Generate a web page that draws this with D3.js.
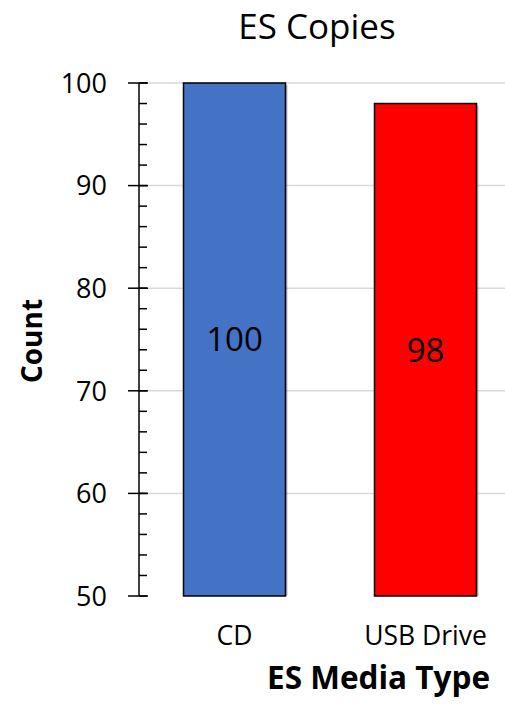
<!DOCTYPE html>
<html>
<head>
<meta charset="utf-8">
<script src="https://cdn.jsdelivr.net/npm/d3@7"></script>
<style>
  html, body { margin: 0; padding: 0; background: #fff; }
  svg { display: block; font-family: "Open Sans", "Liberation Sans", sans-serif; }
</style>
</head>
<body>
<svg id="chart" width="505" height="712"></svg>
<script>
// Media types and the number of copies for each
const categories = ["CD", "USB Drive"];
const counts = [100, 98];
const barColors = ["#4472C4", "#FF0000"];
const yTicks = [50, 60, 70, 80, 90, 100];
const yMinorTicks = d3.range(50, 101, 2);

const svg = d3.select("#chart");
const W = 505;
const plotLeft = 139, plotTop = 83, plotBottom = 596, plotRight = 521;

const y = d3.scaleLinear().domain([50, 100]).range([plotBottom, plotTop]);
const x = d3.scaleBand().domain(categories).range([plotLeft, plotRight])
  .paddingInner(0.466).paddingOuter(0.233);

// Horizontal gridlines
svg.append("g").selectAll("line").data(yTicks.slice(1)).join("line")
  .attr("x1", plotLeft).attr("x2", W)
  .attr("y1", d => y(d)).attr("y2", d => y(d))
  .attr("stroke", "#d9d9d9").attr("stroke-width", 1.5);

// Bars with a faint shadow
const bars = svg.append("g");
bars.selectAll("rect.shadow").data(categories).join("rect")
  .attr("class", "shadow")
  .attr("x", d => x(d) + 2)
  .attr("y", (d, i) => y(counts[i]) + 2)
  .attr("width", x.bandwidth())
  .attr("height", (d, i) => y(50) - y(counts[i]) - 2)
  .attr("fill", "#000").attr("opacity", 0.25);
bars.selectAll("rect.bar").data(categories).join("rect")
  .attr("class", "bar")
  .attr("x", d => x(d))
  .attr("y", (d, i) => y(counts[i]))
  .attr("width", x.bandwidth())
  .attr("height", (d, i) => y(50) - y(counts[i]))
  .attr("fill", (d, i) => barColors[i])
  .attr("stroke", "#000").attr("stroke-width", 1.5);

// Value labels at the middle of each bar
svg.append("g").selectAll("text").data(categories).join("text")
  .attr("x", d => x(d) + x.bandwidth() / 2)
  .attr("y", (d, i) => (y(counts[i]) + y(50)) / 2)
  .attr("dy", "0.36em")
  .attr("text-anchor", "middle")
  .attr("font-size", 33)
  .attr("fill", "#000")
  .text((d, i) => counts[i]);

// Y axis: minor ticks inside, major ticks crossing
const yAxis = svg.append("g");
yAxis.selectAll("line.minor").data(yMinorTicks).join("line")
  .attr("class", "minor")
  .attr("x1", plotLeft).attr("x2", plotLeft + 8)
  .attr("y1", d => y(d)).attr("y2", d => y(d))
  .attr("stroke", "#000").attr("stroke-width", 1.5);
yAxis.selectAll("line.major").data(yTicks).join("line")
  .attr("class", "major")
  .attr("x1", plotLeft - 11).attr("x2", plotLeft + 9)
  .attr("y1", d => y(d)).attr("y2", d => y(d))
  .attr("stroke", "#000").attr("stroke-width", 1.5);
yAxis.append("line")
  .attr("x1", plotLeft).attr("x2", plotLeft)
  .attr("y1", y(100)).attr("y2", y(50))
  .attr("stroke", "#000").attr("stroke-width", 1.5);
yAxis.selectAll("text").data(yTicks).join("text")
  .attr("x", 107)
  .attr("y", d => y(d))
  .attr("dy", "0.36em")
  .attr("text-anchor", "end")
  .attr("font-size", 27)
  .attr("fill", "#000")
  .text(d => d);

// Category labels
svg.append("g").selectAll("text").data(categories).join("text")
  .attr("x", d => x(d) + x.bandwidth() / 2)
  .attr("y", 645)
  .attr("text-anchor", "middle")
  .attr("font-size", 26.5)
  .attr("fill", "#000")
  .text(d => d);

// Title
svg.append("text")
  .attr("x", 317).attr("y", 39)
  .attr("text-anchor", "middle")
  .attr("font-size", 35)
  .attr("fill", "#000")
  .text("ES Copies");

// Axis titles
svg.append("text")
  .attr("x", 490).attr("y", 689)
  .attr("text-anchor", "end")
  .attr("font-size", 31.5).attr("font-weight", "bold")
  .attr("fill", "#000")
  .text("ES Media Type");

svg.append("text")
  .attr("transform", "translate(42,341) rotate(-90)")
  .attr("text-anchor", "middle")
  .attr("font-size", 28).attr("font-weight", "bold")
  .attr("fill", "#000")
  .text("Count");
</script>
</body>
</html>
